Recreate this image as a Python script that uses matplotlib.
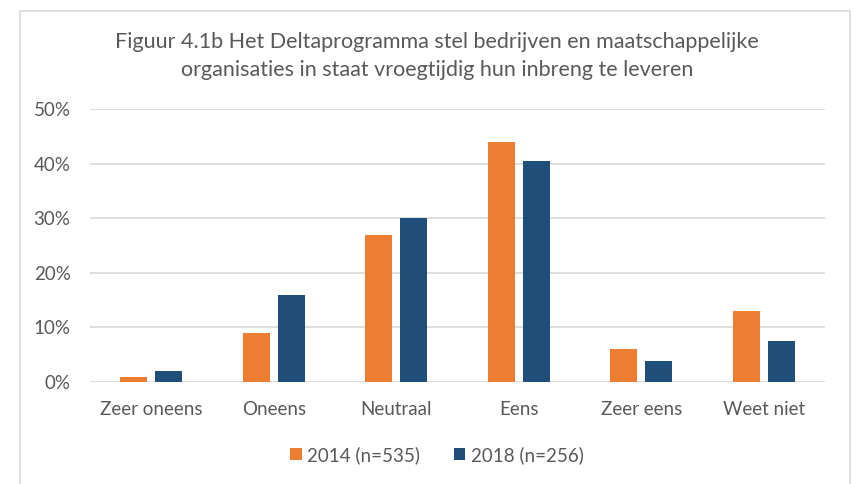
import matplotlib
matplotlib.use("Agg")
import matplotlib.pyplot as plt
import numpy as np
from matplotlib.patches import Rectangle

categories = ["Zeer oneens", "Oneens", "Neutraal", "Eens", "Zeer eens", "Weet niet"]
series_names = ["2014 (n=535)", "2018 (n=256)"]
values_2014 = [1, 9, 27, 44, 6, 13]
values_2018 = [2, 16, 30, 40.5, 3.9, 7.6]
yticks = [0, 10, 20, 30, 40, 50]
title = "Figuur 4.1b Het Deltaprogramma stel bedrijven en maatschappelijke\norganisaties in staat vroegtijdig hun inbreng te leveren"

ORANGE = "#ED7D31"
BLUE = "#1F4E79"
TXT = "#595959"
GRID = "#D9D9D9"

plt.rcParams['font.family'] = ['Lato', 'DejaVu Sans']

W, H = 854, 484
fig = plt.figure(figsize=(W/100, H/100), dpi=100)
fig.patch.set_facecolor("white")

# chart border
fig.add_artist(Rectangle((20/W, -0.1), (850-20)/W, (H-11)/H + 0.1, transform=fig.transFigure,
                         fill=False, edgecolor="#D9D9D9", linewidth=1.2))

ax = fig.add_axes([90/W, 1 - 382/H, (825-90)/W, (382-109)/H])
x = np.arange(len(categories))
bw = 0.22
off = 0.143
ax.bar(x - off, values_2014, width=bw, color=ORANGE, label=series_names[0], zorder=3)
ax.bar(x + off, values_2018, width=bw, color=BLUE, label=series_names[1], zorder=3)

ax.set_xlim(-0.5, len(categories) - 0.5)
ax.set_ylim(0, 50)
ax.set_yticks(yticks)
ax.set_yticklabels([f"{v}%" for v in yticks])
ax.set_xticks(x)
ax.set_xticklabels(categories)
ax.tick_params(axis='both', length=0, colors=TXT, labelsize=13.5)
ax.tick_params(axis='y', pad=14)
ax.tick_params(axis='x', pad=14)
for s in ax.spines.values():
    s.set_visible(False)
ax.grid(axis='y', color=GRID, linewidth=1.2, zorder=0)
ax.set_axisbelow(True)

fig.text(437/W, 1 - 56/H, title, ha='center', va='center', fontsize=15.5, color=TXT,
         linespacing=1.5)

leg = fig.legend(loc='center', bbox_to_anchor=(437/W, 1 - 455/H), ncol=2, frameon=False,
                 fontsize=13.5, handlelength=0.6, handleheight=0.6, handletextpad=0.3,
                 columnspacing=1.8)
for t in leg.get_texts():
    t.set_color(TXT)

fig.savefig("out.png", dpi=100)
